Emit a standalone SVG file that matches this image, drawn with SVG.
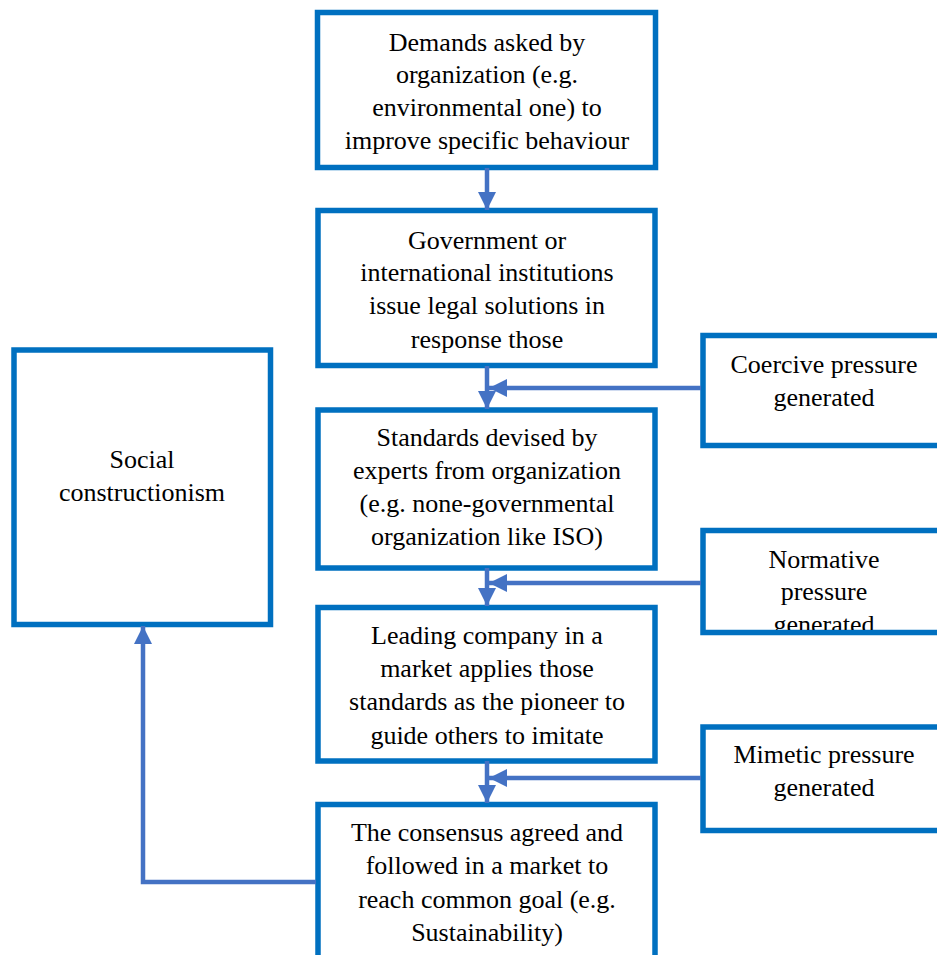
<svg xmlns="http://www.w3.org/2000/svg" width="937" height="955" viewBox="0 0 937 955" font-family="Liberation Serif, Times New Roman, serif">
<style>
.box{fill:#fff;stroke:#0070C0;stroke-width:5.5}
.t{font-size:26px;fill:#000;text-anchor:middle}
.c{fill:none;stroke:#4472C4;stroke-width:4.5}
</style>
<defs>
<marker id="ah" markerUnits="userSpaceOnUse" markerWidth="19" markerHeight="18" refX="18" refY="9" orient="auto" viewBox="0 0 19 18">
<path d="M0,0 L18,9 L0,18 z" fill="#4472C4"/>
</marker>
<clipPath id="clipN"><rect x="705" y="533" width="240" height="97"/></clipPath>
</defs>
<rect width="937" height="955" fill="#fff"/>
<g id="n1">
<rect class="box" x="317.5" y="12.5" width="338" height="155"/>
<text class="t" x="487" y="51">Demands asked by</text>
<text class="t" x="487" y="83">organization (e.g.</text>
<text class="t" x="487" y="116">environmental one) to</text>
<text class="t" x="487" y="149">improve specific behaviour</text>
</g>
<g id="n2">
<rect class="box" x="318" y="210.5" width="337" height="155"/>
<text class="t" x="487" y="249">Government or</text>
<text class="t" x="487" y="281">international institutions</text>
<text class="t" x="487" y="314">issue legal solutions in</text>
<text class="t" x="487" y="348">response those</text>
</g>
<g id="n3">
<rect class="box" x="318" y="410" width="337" height="158"/>
<text class="t" x="487" y="446">Standards devised by</text>
<text class="t" x="487" y="479">experts from organization</text>
<text class="t" x="487" y="512">(e.g. none-governmental</text>
<text class="t" x="487" y="545">organization like ISO)</text>
</g>
<g id="n4">
<rect class="box" x="318" y="607.5" width="337" height="153.5"/>
<text class="t" x="487" y="644">Leading company in a</text>
<text class="t" x="487" y="677">market applies those</text>
<text class="t" x="487" y="710">standards as the pioneer to</text>
<text class="t" x="487" y="744">guide others to imitate</text>
</g>
<g id="n5">
<rect class="box" x="318" y="804.5" width="337" height="170"/>
<text class="t" x="487" y="841">The consensus agreed and</text>
<text class="t" x="487" y="874">followed in a market to</text>
<text class="t" x="487" y="908">reach common goal (e.g.</text>
<text class="t" x="487" y="941">Sustainability)</text>
</g>
<g id="coercive">
<rect class="box" x="703" y="335.5" width="260" height="110"/>
<text class="t" x="824" y="373">Coercive pressure</text>
<text class="t" x="824" y="406">generated</text>
</g>
<g id="normative">
<rect class="box" x="703" y="530.5" width="260" height="102"/>
<g clip-path="url(#clipN)">
<text class="t" x="824" y="568">Normative</text>
<text class="t" x="824" y="600">pressure</text>
<text class="t" x="824" y="633">generated</text>
</g>
</g>
<g id="mimetic">
<rect class="box" x="703" y="727" width="260" height="103.5"/>
<text class="t" x="824" y="763">Mimetic pressure</text>
<text class="t" x="824" y="796">generated</text>
</g>
<g id="social">
<rect class="box" x="14" y="350" width="256.5" height="274.5"/>
<text class="t" x="142" y="468">Social</text>
<text class="t" x="142" y="501">constructionism</text>
</g>
<g id="connectors">
<line class="c" x1="487" y1="168" x2="487" y2="210" marker-end="url(#ah)"/>
<line class="c" x1="487" y1="366" x2="487" y2="409" marker-end="url(#ah)"/>
<line class="c" x1="487" y1="568" x2="487" y2="606" marker-end="url(#ah)"/>
<line class="c" x1="487" y1="761" x2="487" y2="803" marker-end="url(#ah)"/>
<line class="c" x1="701" y1="388" x2="489" y2="388" marker-end="url(#ah)"/>
<line class="c" x1="701" y1="583" x2="489" y2="583" marker-end="url(#ah)"/>
<line class="c" x1="701" y1="778" x2="489" y2="778" marker-end="url(#ah)"/>
<polyline class="c" points="316,882 143,882 143,626" marker-end="url(#ah)"/>
</g>
</svg>
